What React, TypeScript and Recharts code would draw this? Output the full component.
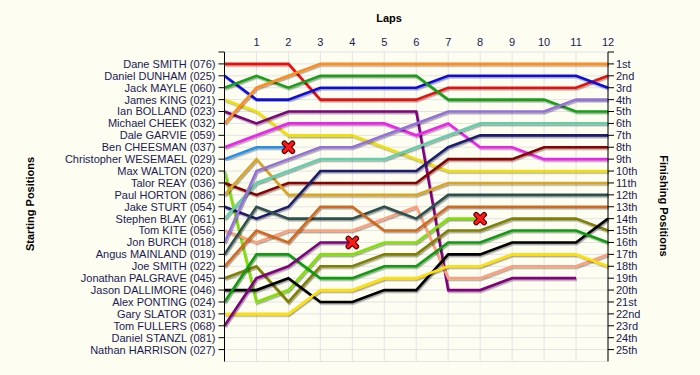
import { LineChart, Line, XAxis, YAxis, CartesianGrid } from "recharts";

const LAPS = [0, 1, 2, 3, 4, 5, 6, 7, 8, 9, 10, 11, 12];

const DRIVERS = [
  "Dane SMITH (076)",
  "Daniel DUNHAM (025)",
  "Jack MAYLE (060)",
  "James KING (021)",
  "Ian BOLLAND (023)",
  "Michael CHEEK (032)",
  "Dale GARVIE (059)",
  "Ben CHEESMAN (037)",
  "Christopher WESEMAEL (029)",
  "Max WALTON (020)",
  "Talor REAY (036)",
  "Paul HORTON (086)",
  "Jake STURT (054)",
  "Stephen BLAY (061)",
  "Tom KITE (056)",
  "Jon BURCH (018)",
  "Angus MAINLAND (019)",
  "Joe SMITH (022)",
  "Jonathan PALGRAVE (045)",
  "Jason DALLIMORE (046)",
  "Alex PONTING (024)",
  "Gary SLATOR (031)",
  "Tom FULLERS (068)",
  "Daniel STANZL (081)",
  "Nathan HARRISON (027)",
];

const FINISH_LABELS = [
  "1st", "2nd", "3rd", "4th", "5th", "6th", "7th", "8th", "9th", "10th",
  "11th", "12th", "13th", "14th", "15th", "16th", "17th", "18th", "19th", "20th",
  "21st", "22nd", "23rd", "24th", "25th",
];

// position at the end of each lap (lap 0 = grid), null = no longer running
const danSmith = [1, 1, 1, 4, 4, 4, 4, 3, 3, 3, 3, 3, 2];
const dunham = [2, 4, 4, 3, 3, 3, 3, 2, 2, 2, 2, 2, 3];
const mayle = [3, 2, 3, 2, 2, 2, 2, 4, 4, 4, 4, 5, 5];
const king = [4, 5, 7, 7, 7, 8, 9, 10, 10, 10, 10, 10, 10];
const bolland = [5, 6, 5, 5, 5, 5, 5, 20, 20, 19, 19, 19, null];
const cheek = [6, 3, 2, 1, 1, 1, 1, 1, 1, 1, 1, 1, 1];
const cheesman = [8, 7, 6, 6, 6, 6, 7, 6, 8, 8, 9, 9, 9];
const wesemael = [9, 8, 8, null, null, null, null, null, null, null, null, null, null];
const walton = [10, 21, 20, 17, 17, 16, 16, 14, 14, null, null, null, null];
const reay = [11, 12, 11, 11, 11, 11, 11, 9, 9, 9, 8, 8, 8];
const horton = [12, 9, 12, 12, 12, 12, 12, 11, 11, 11, 11, 11, 11];
const sturt = [13, 14, 13, 10, 10, 10, 10, 8, 7, 7, 7, 7, 7];
const blay = [14, 11, 10, 9, 9, 9, 8, 7, 6, 6, 6, 6, 6];
const kite = [15, 16, 15, 15, 15, 14, 13, 19, 19, 18, 18, 18, 17];
const burch = [16, 10, 9, 8, 8, 7, 6, 5, 5, 5, 5, 4, 4];
const mainland = [17, 13, 14, 14, 14, 13, 14, 12, 12, 12, 12, 12, 12];
const joeSmith = [18, 15, 16, 13, 13, 15, 15, 13, 13, 13, 13, 13, 13];
const palgrave = [19, 18, 21, 18, 18, 17, 17, 15, 15, 14, 14, 14, 15];
const dallimore = [20, 20, 19, 21, 21, 20, 20, 17, 17, 16, 16, 16, 14];
const ponting = [21, 17, 17, 19, 19, 18, 18, 16, 16, 15, 15, 15, 16];
const slator = [22, 22, 22, 20, 20, 19, 19, 18, 18, 17, 17, 17, 18];
const fullers = [23, 19, 18, 16, 16, null, null, null, null, null, null, null, null];

const SERIES = [
  { pos: danSmith, color: "#ee1111" },
  { pos: dunham, color: "#1010e0" },
  { pos: mayle, color: "#16a016" },
  { pos: king, color: "#f2e000" },
  { pos: bolland, color: "#800080" },
  { pos: cheek, color: "#ff8c1a" },
  { pos: cheesman, color: "#f020f0" },
  { pos: wesemael, color: "#2090f0", out: true },
  { pos: walton, color: "#80e000", out: true },
  { pos: reay, color: "#8b0000" },
  { pos: horton, color: "#daa520" },
  { pos: sturt, color: "#1c1c70" },
  { pos: blay, color: "#66cdaa" },
  { pos: kite, color: "#ffa07a" },
  { pos: burch, color: "#9370db" },
  { pos: mainland, color: "#2f4f4f" },
  { pos: joeSmith, color: "#d2691e" },
  { pos: palgrave, color: "#808000" },
  { pos: dallimore, color: "#000000" },
  { pos: ponting, color: "#0c9c0c" },
  { pos: slator, color: "#ffe000" },
  { pos: fullers, color: "#800080", out: true },
];

const chartData = LAPS.map((lap, i) => {
  const row: any = { lap };
  SERIES.forEach((s, k) => {
    row[`d${k}`] = s.pos[i];
  });
  return row;
});

const POS_TICKS = Array.from({ length: 26 }, (_, i) => i);
const TEXT = "#1a1a55";

function LapTick(props: any) {
  const { x, payload } = props;
  if (payload.value === 0) return <g />;
  return (
    <text x={x} y={45.5} textAnchor="middle" fontSize={11} fill={TEXT}>
      {payload.value}
    </text>
  );
}

function XMark({ cx, cy }: { cx: number; cy: number }) {
  const d = `M${cx - 4},${cy - 4}L${cx + 4},${cy + 4}M${cx - 4},${cy + 4}L${cx + 4},${cy - 4}`;
  return (
    <g>
      <path d={d} stroke="#5a0000" strokeWidth={5.5} strokeLinecap="round" fill="none" />
      <path d={d} stroke="#ff1a1a" strokeWidth={3.2} strokeLinecap="round" fill="none" />
    </g>
  );
}

export default function App() {
  return (
    <div
      style={{
        position: "absolute",
        left: 0,
        top: 0,
        width: 700,
        height: 375,
        background: "#fdfdf2",
        fontFamily: "'Liberation Sans', Arial, sans-serif",
      }}
    >
      <style>{`.recharts-line { filter: url(#lapShadow); }`}</style>
      <svg width={0} height={0} style={{ position: "absolute" }}>
        <defs>
          <filter id="lapShadow" x="-10%" y="-10%" width="120%" height="120%">
            <feDropShadow dx="1" dy="1.5" stdDeviation="0.6" floodColor="#000000" floodOpacity="0.35" />
          </filter>
        </defs>
      </svg>
      <LineChart
        width={700}
        height={375}
        data={chartData}
        margin={{ top: 22, right: 32, bottom: 13.5, left: 0 }}
      >
        <CartesianGrid yAxisId="pos" stroke="#e3e3e3" />
        <XAxis
          dataKey="lap"
          type="number"
          domain={[0, 12]}
          ticks={LAPS}
          interval={0}
          orientation="top"
          height={30}
          axisLine={false}
          tickLine={false}
          tick={<LapTick />}
        />
        <YAxis
          yAxisId="pos"
          type="number"
          domain={[0, 26]}
          reversed
          ticks={POS_TICKS}
          interval={0}
          width={224.5}
          tickSize={6}
          tickMargin={3}
          axisLine={{ stroke: "#000" }}
          tickLine={{ stroke: "#000" }}
          tick={{ fontSize: 11, fill: TEXT }}
          tickFormatter={(v: number) => DRIVERS[v - 1] ?? ""}
        />
        <YAxis
          yAxisId="fin"
          orientation="right"
          type="number"
          domain={[0, 26]}
          reversed
          ticks={POS_TICKS}
          interval={0}
          width={60}
          tickSize={6}
          tickMargin={2}
          axisLine={{ stroke: "#000" }}
          tickLine={{ stroke: "#000" }}
          tick={{ fontSize: 11, fill: TEXT, textAnchor: "start" }}
          tickFormatter={(v: number) => FINISH_LABELS[v - 1] ?? ""}
        />
        <Line yAxisId="fin" dataKey="d0" stroke="none" dot={false} activeDot={false} isAnimationActive={false} />
        {SERIES.map((s, k) => {
          const last = s.pos.reduce((acc: number, v, i) => (v != null ? i : acc), 0);
          return (
            <Line
              key={`d${k}`}
              yAxisId="pos"
              type="linear"
              dataKey={`d${k}`}
              stroke={s.color}
              strokeWidth={2.6}
              activeDot={false}
              isAnimationActive={false}
              dot={
                s.out
                  ? (p: any) =>
                      p.index === last ? (
                        <XMark key={`x${k}`} cx={p.cx} cy={p.cy} />
                      ) : (
                        <g key={`e${k}-${p.index}`} />
                      )
                  : false
              }
            />
          );
        })}
      </LineChart>
      <div
        style={{
          position: "absolute",
          left: 389,
          top: 18,
          transform: "translate(-50%, -50%)",
          fontSize: 11,
          fontWeight: "bold",
          color: "#000",
        }}
      >
        Laps
      </div>
      <div
        style={{
          position: "absolute",
          left: 30,
          top: 204,
          transform: "translate(-50%, -50%) rotate(-90deg)",
          fontSize: 11,
          fontWeight: "bold",
          whiteSpace: "nowrap",
          color: "#000",
        }}
      >
        Starting Positions
      </div>
      <div
        style={{
          position: "absolute",
          left: 664,
          top: 206,
          transform: "translate(-50%, -50%) rotate(90deg)",
          fontSize: 11,
          fontWeight: "bold",
          whiteSpace: "nowrap",
          color: "#000",
        }}
      >
        Finishing Positions
      </div>
    </div>
  );
}
